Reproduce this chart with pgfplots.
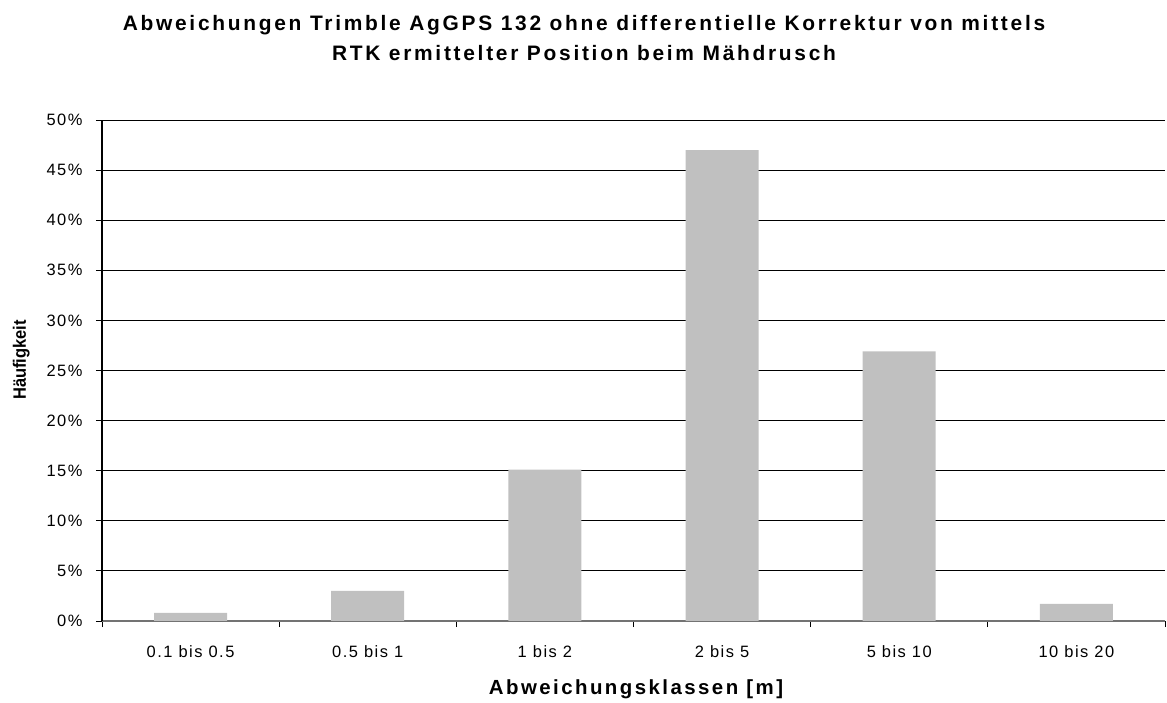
\documentclass[border=0pt]{standalone}
\usepackage{fontspec}
\setmainfont{Liberation Sans}
\usepackage{pgfplots}
\pgfplotsset{compat=1.18}
\definecolor{barfill}{RGB}{192,192,192}

\newcommand{\ticktext}{\fontsize{16.5}{18}\selectfont\addfontfeatures{LetterSpace=9}}
\newcommand{\titletext}{\bfseries\fontsize{21}{24}\selectfont\addfontfeatures{LetterSpace=13}}

\begin{document}
\begin{tikzpicture}[x=1bp,y=1bp]
\begin{axis}[
    scale only axis,
    width=1063bp, height=501bp,
    at={(0,0)}, anchor=south west,
    xmin=-0.5, xmax=5.5,
    ymin=0, ymax=50,
    xtick={0,...,5},
    xticklabels={0.1 bis 0.5, 0.5 bis 1, 1 bis 2, 2 bis 5, 5 bis 10, 10 bis 20},
    major x tick style={draw=none},
    minor xtick={-0.5,0.5,...,5.5},
    minor tick length=6bp,
    ytick={0,5,...,50},
    yticklabel={\pgfmathprintnumber[assume math mode=true]{\tick}\%},
    major tick length=6bp,
    tick align=outside,
    axis x line*=bottom,
    axis y line*=left,
    x axis line style={draw=black!55, line width=1.2pt},
    y axis line style={line width=1.2pt},
    tick style={black, line width=0.8pt},
    ymajorgrids,
    grid style={black, line width=0.8pt},
    ticklabel style={font=\ticktext},
    xticklabel style={yshift=-15bp},
    yticklabel style={xshift=-10bp},
    clip=false,
]
\addplot[ybar, bar width=73bp, fill=barfill, draw=none] coordinates {
    (0, 0.8)
    (1, 3.0)
    (2, 15.1)
    (3, 47.0)
    (4, 26.9)
    (5, 1.7)
};
\end{axis}
% title and axis titles
\node[anchor=base, font=\titletext] at (482,590)
    {Abweichungen Trimble AgGPS 132 ohne differentielle Korrektur von mittels};
\node[anchor=base, font=\titletext] at (482,560)
    {RTK ermittelter Position beim Mähdrusch};
\node[anchor=base, font=\bfseries\fontsize{20.5}{22}\selectfont\addfontfeatures{LetterSpace=12}] at (534,-74)
    {Abweichungsklassen [m]};
\node[anchor=base, rotate=90, xscale=0.92, font=\bfseries\fontsize{18}{20}\selectfont] at (-76,261)
    {Häufigkeit};
\useasboundingbox (-102,-78) rectangle (1065,621);
\end{tikzpicture}
\end{document}
